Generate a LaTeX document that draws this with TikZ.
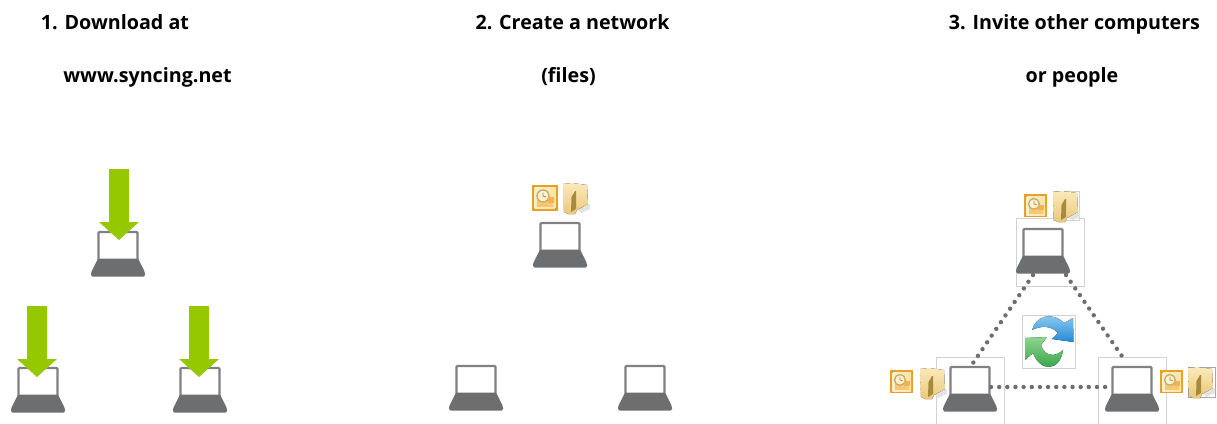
\documentclass[tikz,border=0pt]{standalone}
\usepackage{fontspec}
\setmainfont{Open Sans}
\definecolor{lapdark}{HTML}{6D6E70}
\definecolor{lapline}{HTML}{808183}
\definecolor{dlgreen}{HTML}{96C800}
\definecolor{framegray}{HTML}{D2D2D2}
\definecolor{outlookedge}{HTML}{E8A02A}
\definecolor{outlookin}{HTML}{F9E4A6}
\definecolor{folderlight}{HTML}{FBE9BC}
\definecolor{folderdark}{HTML}{EBC878}
\definecolor{folderslit}{HTML}{A88A3E}
\definecolor{syncblue}{HTML}{2489D6}
\definecolor{synclight}{HTML}{9AD4F2}
\definecolor{syncgreen}{HTML}{2E9E44}
\definecolor{syncgreenl}{HTML}{8ED68E}
\tikzset{
  x=1pt,y=-1pt,
  title/.style={font=\fontsize{19.7}{22}\selectfont\bfseries,text=black,inner sep=0pt,anchor=base},
  framebox/.style={draw=framegray,line width=0.8pt,fill=white,inner sep=0pt,minimum width=68pt,minimum height=68pt},
  dotline/.style={draw=lapdark,line width=4.4pt,line cap=round,dash pattern=on 0pt off 8.15pt},
  laptop/.pic={
    \draw[lapline,line width=2.4pt,rounded corners=1pt,fill=white] (-19.5,29) -- (-19.5,1) -- (19.5,1) -- (19.5,29);
    \fill[lapdark,rounded corners=1.5pt] (-20,27.5) -- (20,27.5) -- (27,41.5) -- (27,45.5) -- (-27,45.5) -- (-27,41.5) -- cycle;
  },
  dlarrow/.pic={
    \fill[dlgreen] (-10,0) -- (10,0) -- (10,53) -- (20,53) -- (0,71) -- (-20,53) -- (-10,53) -- cycle;
  },
  outlook/.pic={
    \fill[outlookedge] (0,0) rectangle (26,26);
    \fill[left color=outlookin!60!white,right color=outlookin] (2.5,2.5) rectangle (23.5,23.5);
    \fill[outlookin!70!orange] (5,15) rectangle (21,22);
    \fill[outlookin!50!white] (11,11) circle (6);
    \draw[folderdark!85!black,line width=1.3pt] (11,11) circle (6);
    \draw[folderslit,line width=0.8pt] (11,7.5) -- (11,11) -- (14,12);
    \fill[outlookedge!80!white] (16,12) rectangle (22,18);
  },
  folderpic/.pic={
    \fill[gray!22] (15,26) -- (27,21) -- (27,26) -- (18,30) -- cycle;
    \fill[top color=folderlight,bottom color=folderdark] (0,1) -- (9,0) -- (24,2) -- (25,21) -- (14,27) -- (12,31) -- (5,31) -- (1,29) -- cycle;
    \fill[folderslit] (8,29) -- (8.5,14) -- (12,8) -- (13,8) -- (13,26) -- cycle;
  },
}
\begin{document}
\begin{tikzpicture}
\useasboundingbox (0,0) rectangle (1217,423);
\clip (0,0) rectangle (1217,423);
\fill[white] (0,0) rectangle (1217,423);

% titles
\node[title] (t1a) at (115,29) {1. Download at};
\node[title] (t1b) at (147.5,82) {www.syncing.net};
\node[title] (t2a) at (572.5,29) {2. Create a network};
\node[title] (t2b) at (568.5,82) {(files)};
\node[title] (t3a) at (1074.5,29) {3. Invite other computers};
\node[title] (t3b) at (1072,82) {or people};

% panel 1
\pic at (118,231) {laptop};
\pic at (38,367) {laptop};
\pic at (200,367) {laptop};
\pic at (119,169) {dlarrow};
\pic at (37,306) {dlarrow};
\pic at (199,306) {dlarrow};

% panel 2
\pic at (560,222) {laptop};
\pic at (476,365) {laptop};
\pic at (645,365) {laptop};
\pic at (532,185) {outlook};
\pic at (563,183) {folderpic};

% panel 3
\node[framebox] (ftop) at (1050.5,252) {};
\node[framebox] (fleft) at (970,391) {};
\node[framebox] (fright) at (1132,391) {};
\pic at (1043,228) {laptop};
\pic at (970,366) {laptop};
\pic at (1132,366) {laptop};

\pic at (1024,194) [scale=0.9] {outlook};
\draw[framegray,line width=0.6pt,fill=white] (1053,191) rectangle (1079,220);
\pic at (1053,191) {folderpic};
\pic at (890,370) [scale=0.9] {outlook};
\pic at (920,368) {folderpic};
\pic at (1160,370) [scale=0.9] {outlook};
\draw[framegray!80!black,line width=0.6pt,fill=white] (1188,367) rectangle (1215,397);
\pic at (1188,367) {folderpic};

% sync icon
\node[draw=framegray,line width=0.8pt,fill=white,inner sep=0pt,minimum width=53pt,minimum height=53pt] (sync) at (1048.5,341.5) {};
\fill[top color=synclight,bottom color=syncblue]
  (1032,330) .. controls (1036,316) and (1052,311) .. (1064,323) -- (1073,318) -- (1073.5,342) -- (1052,339) -- (1058,333)
  .. controls (1052,326) and (1042,325) .. (1032,330) -- cycle;
\fill[top color=syncgreenl,bottom color=syncgreen]
  (1063,350) .. controls (1060,372) and (1040,372) .. (1033,353) -- (1025,360) -- (1025,338) -- (1047,337) -- (1041,345)
  .. controls (1044,356) and (1055,358) .. (1063,350) -- cycle;

% connectors
\coordinate (a1) at (1033,275);
\coordinate (a2) at (973,363);
\coordinate (b1) at (1066,275);
\coordinate (b2) at (1126,362);
\coordinate (c1) at (991,387);
\coordinate (c2) at (1107,387);
\path[dotline] (a1) -- (a2);
\path[dotline] (b1) -- (b2);
\path[dotline] (c1) -- (c2);
\end{tikzpicture}
\end{document}
